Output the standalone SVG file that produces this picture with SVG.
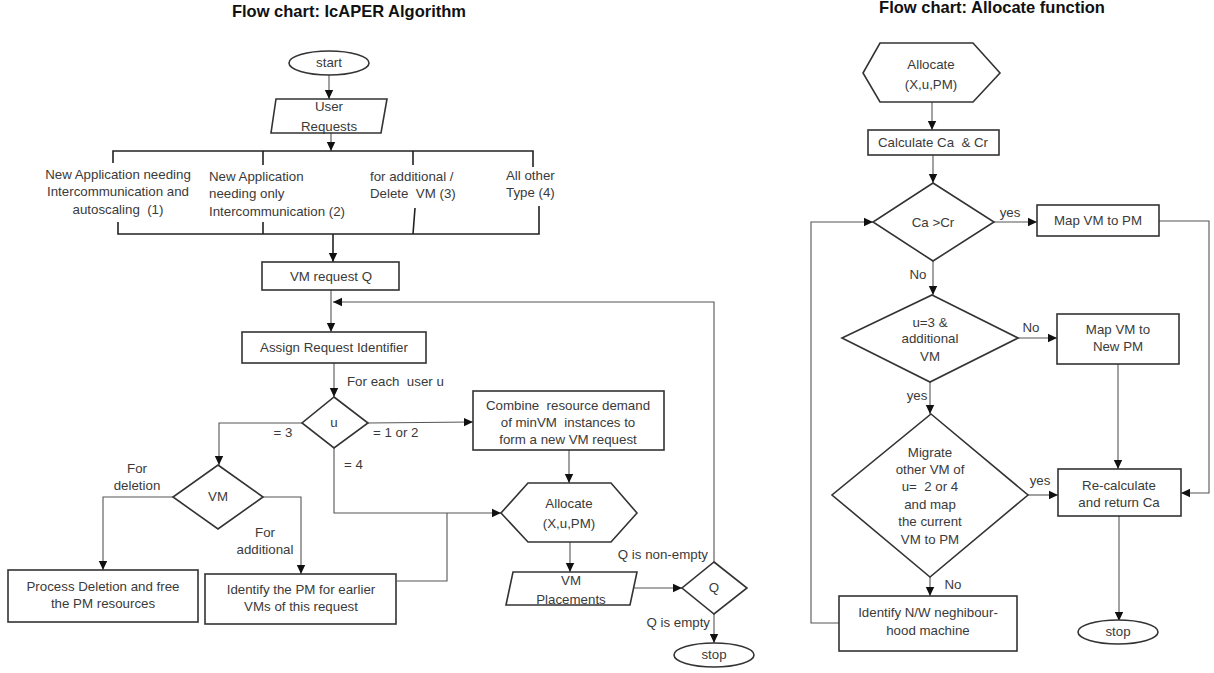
<svg xmlns="http://www.w3.org/2000/svg" width="1214" height="673" viewBox="0 0 1214 673">
<style>
text{font-family:"Liberation Sans",Arial,sans-serif;font-size:13.3px;fill:#3a3a3a;white-space:pre}
.t{text-anchor:middle}
.title{font-weight:bold;font-size:16.5px;fill:#111}
.shape{fill:#fff;stroke:#333;stroke-width:1.6}
.c{fill:none;stroke:#555;stroke-width:1.1}
.b{fill:none;stroke:#222;stroke-width:1.6}
</style>
<defs>
<marker id="ah" markerUnits="userSpaceOnUse" markerWidth="10" markerHeight="10" refX="9" refY="5" orient="auto">
<path d="M0,0.8 L9,5 L0,9.2 Z" fill="#111"/>
</marker>
</defs>
<text class="title t" x="349" y="17">Flow chart: IcAPER Algorithm</text>
<text class="title t" x="992" y="13">Flow chart: Allocate function</text>

<g id="connectors">
<path class="c" d="M329 75 V99" marker-end="url(#ah)"/>
<path class="c" d="M331 133 V151" marker-end="url(#ah)"/>
<path class="b" d="M113 163 V151 H533 V167 M263 151 V165 M413 151 V165"/>
<path class="b" d="M118 222 V234 H539 V206 M263 222 V234 M415 208 L413 234"/>
<path class="b" d="M333 234 V262" marker-end="url(#ah)"/>
<path class="c" d="M331 290 V332" marker-end="url(#ah)"/>
<path class="c" d="M714 562 V302 H333" marker-end="url(#ah)"/>
<path class="c" d="M334 363 V397" marker-end="url(#ah)"/>
<path class="c" d="M302 423 H219 V465" marker-end="url(#ah)"/>
<path class="c" d="M368 423 L473 422" marker-end="url(#ah)"/>
<path class="c" d="M334 448 V513 H501" marker-end="url(#ah)"/>
<path class="c" d="M397 581 H447 V513"/>
<path class="c" d="M173 497 H103 V570" marker-end="url(#ah)"/>
<path class="c" d="M263 497 H301 V574" marker-end="url(#ah)"/>
<path class="c" d="M569 450 V483" marker-end="url(#ah)"/>
<path class="c" d="M570 542 V572" marker-end="url(#ah)"/>
<path class="c" d="M634 588 H682" marker-end="url(#ah)"/>
<path class="c" d="M714 614 V643" marker-end="url(#ah)"/>

<path class="c" d="M932 102 V130" marker-end="url(#ah)"/>
<path class="c" d="M933 155 V183" marker-end="url(#ah)"/>
<path class="c" d="M994 222 H1037" marker-end="url(#ah)"/>
<path class="c" d="M1159 221 H1209 V493 H1181" marker-end="url(#ah)"/>
<path class="c" d="M839 623 H811 V222 H873" marker-end="url(#ah)"/>
<path class="c" d="M933 261 V295" marker-end="url(#ah)"/>
<path class="c" d="M1018 338 H1057" marker-end="url(#ah)"/>
<path class="c" d="M1118 364 V469" marker-end="url(#ah)"/>
<path class="c" d="M930 382 V414" marker-end="url(#ah)"/>
<path class="c" d="M1028 495 H1058" marker-end="url(#ah)"/>
<path class="c" d="M1119 516 V621" marker-end="url(#ah)"/>
<path class="c" d="M930 577 V596" marker-end="url(#ah)"/>

<text class="t" x="118" y="179">New Application needing</text>
<text class="t" x="118" y="196">Intercommunication and</text>
<text class="t" x="118" y="214">autoscaling  (1)</text>
<text x="209" y="181">New Application</text>
<text x="209" y="198">needing only</text>
<text x="209" y="216">Intercommunication (2)</text>
<text x="370" y="181">for additional /</text>
<text x="370" y="198">Delete  VM (3)</text>
<text x="506" y="180">All other</text>
<text x="506" y="197">Type (4)</text>
<text x="347" y="386">For each  user u</text>
<text x="283" y="437" class="t">= 3</text>
<text x="373" y="437">= 1 or 2</text>
<text x="344" y="469">= 4</text>
<text class="t" x="137" y="473">For</text>
<text class="t" x="137" y="490">deletion</text>
<text class="t" x="265" y="537">For</text>
<text class="t" x="265" y="554">additional</text>
<text x="708" y="559" text-anchor="end">Q is non-empty</text>
<text x="710" y="627" text-anchor="end">Q is empty</text>

<text x="1010" y="217" class="t">yes</text>
<text x="918" y="279" class="t">No</text>
<text x="1031" y="332" class="t">No</text>
<text x="917" y="400" class="t">yes</text>
<text x="1040" y="485" class="t">yes</text>
<text x="953" y="589" class="t">No</text>
</g>

<g id="start"><ellipse class="shape" cx="329" cy="63" rx="40" ry="12"/><text class="t" x="329" y="67">start</text></g>
<g id="user-requests"><polygon class="shape" points="276,99 387,99 381,133 271,133"/><text class="t" x="329" y="111">User</text><text class="t" x="329" y="131">Requests</text></g>
<g id="vm-request-q"><rect class="shape" x="262" y="262" width="137" height="28"/><text class="t" x="331" y="281">VM request Q</text></g>
<g id="assign-id"><rect class="shape" x="242" y="332" width="184" height="31"/><text class="t" x="334" y="352">Assign Request Identifier</text></g>
<g id="u-decision"><polygon class="shape" points="334,397 368,423 334,448 302,423"/><text class="t" x="334" y="427">u</text></g>
<g id="combine"><rect class="shape" x="473" y="391" width="191" height="59"/><text class="t" x="568" y="410">Combine  resource demand</text><text class="t" x="568" y="427">of minVM  instances to</text><text class="t" x="568" y="444">form a new VM request</text></g>
<g id="vm-decision"><polygon class="shape" points="218,465 263,497 218,529 173,497"/><text class="t" x="218" y="501">VM</text></g>
<g id="process-deletion"><rect class="shape" x="8" y="570" width="190" height="52"/><text class="t" x="103" y="591">Process Deletion and free</text><text class="t" x="103" y="608">the PM resources</text></g>
<g id="identify-pm"><rect class="shape" x="205" y="574" width="191" height="50"/><text class="t" x="301" y="594">Identify the PM for earlier</text><text class="t" x="301" y="611">VMs of this request</text></g>
<g id="allocate-left"><polygon class="shape" points="528,483 611,483 637,513 611,542 528,542 501,513"/><text class="t" x="569" y="508">Allocate</text><text class="t" x="569" y="528">(X,u,PM)</text></g>
<g id="vm-placements"><polygon class="shape" points="513,572 637,572 630,605 506,605"/><text class="t" x="571" y="585">VM</text><text class="t" x="571" y="604">Placements</text></g>
<g id="q-decision"><polygon class="shape" points="714,562 747,588 714,614 682,588"/><text class="t" x="714" y="592">Q</text></g>
<g id="stop-left"><ellipse class="shape" cx="714" cy="655" rx="40" ry="12"/><text class="t" x="714" y="659">stop</text></g>

<g id="allocate-right"><polygon class="shape" points="880,43 973,43 1000,73 973,102 880,102 863,73"/><text class="t" x="931" y="69">Allocate</text><text class="t" x="931" y="89">(X,u,PM)</text></g>
<g id="calculate"><rect class="shape" x="868" y="130" width="131" height="25"/><text class="t" x="933" y="147">Calculate Ca  &amp; Cr</text></g>
<g id="ca-cr"><polygon class="shape" points="933,183 994,222 933,261 873,222"/><text class="t" x="933" y="227">Ca &gt;Cr</text></g>
<g id="map-pm"><rect class="shape" x="1037" y="205" width="122" height="31"/><text class="t" x="1098" y="225">Map VM to PM</text></g>
<g id="u3-decision"><polygon class="shape" points="932,295 1018,338 930,382 842,338"/><text class="t" x="930" y="327">u=3 &amp;</text><text class="t" x="930" y="343">additional</text><text class="t" x="930" y="361">VM</text></g>
<g id="map-new-pm"><rect class="shape" x="1057" y="314" width="122" height="50"/><text class="t" x="1118" y="334">Map VM to</text><text class="t" x="1118" y="351">New PM</text></g>
<g id="migrate"><polygon class="shape" points="931,414 1028,495 930,577 832,495"/><text class="t" x="930" y="457">Migrate</text><text class="t" x="930" y="474">other VM of</text><text class="t" x="930" y="491">u=  2 or 4</text><text class="t" x="930" y="509">and map</text><text class="t" x="930" y="526">the current</text><text class="t" x="930" y="544">VM to PM</text></g>
<g id="recalculate"><rect class="shape" x="1058" y="469" width="123" height="47"/><text class="t" x="1119" y="490">Re-calculate</text><text class="t" x="1119" y="507">and return Ca</text></g>
<g id="identify-nw"><rect class="shape" x="839" y="596" width="178" height="55"/><text class="t" x="928" y="617">Identify N/W neghibour-</text><text class="t" x="928" y="635">hood machine</text></g>
<g id="stop-right"><ellipse class="shape" cx="1118" cy="632" rx="40" ry="12"/><text class="t" x="1118" y="636">stop</text></g>
</svg>
